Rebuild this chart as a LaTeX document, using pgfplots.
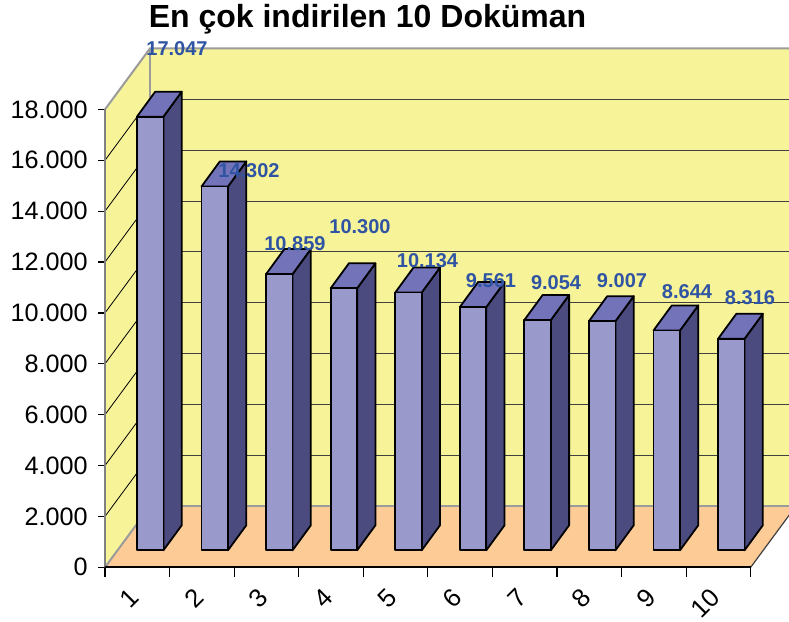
\documentclass[border=0pt]{standalone}
\usepackage{fontspec}
\setmainfont{Liberation Sans}
\usepackage{pgfplots}
\pgfplotsset{compat=1.18}
\definecolor{wallY}{RGB}{247,243,153}
\definecolor{floorO}{RGB}{253,203,150}
\definecolor{barF}{RGB}{153,153,204}
\definecolor{barT}{RGB}{115,115,185}
\definecolor{barS}{RGB}{75,75,128}
\definecolor{lblB}{RGB}{47,84,163}
\definecolor{edgeG}{RGB}{155,155,155}
\definecolor{gridD}{RGB}{64,64,64}

% #1 category centre, #2 value (thousands), #3,#4 label position, #5 label text
\newcommand{\drawbar}[5]{%
  \pgfmathsetmacro\xa{#1-0.005}%
  \pgfmathsetmacro\xb{#1+0.405}%
  \pgfmathsetmacro\xc{#1+0.688}%
  \pgfmathsetmacro\xd{#1+0.278}%
  \pgfmathsetmacro\yb{#2+0.668}%
  \pgfmathsetmacro\yc{#2+1.651}%
  \addplot[fill=barS, draw=black, line width=0.9pt, line join=round]
    coordinates {(\xb,0.668) (\xc,1.651) (\xc,\yc) (\xb,\yb)} -- cycle;
  \addplot[fill=barT, draw=black, line width=0.9pt, line join=round]
    coordinates {(\xa,\yb) (\xb,\yb) (\xc,\yc) (\xd,\yc)} -- cycle;
  \addplot[fill=barF, draw=black, line width=0.9pt, line join=round]
    coordinates {(\xa,0.668) (\xb,0.668) (\xb,\yb) (\xa,\yb)} -- cycle;
  \node[font=\fontsize{10}{12}\selectfont\bfseries, text=lblB, inner sep=0pt]
    at (axis cs:#3,#4) {#5};
}

\begin{document}
\begin{tikzpicture}
\begin{axis}[
  at={(0,0)}, anchor=south west,
  scale only axis, width=342pt, height=260.1pt,
  xmin=0, xmax=10.593, ymin=0, ymax=20.45,
  clip=false,
  axis line style={draw=none},
  tick pos=left, tick align=outside,
  xtick={0.5,1.5,2.5,3.5,4.5,5.5,6.5,7.5,8.5,9.5},
  xticklabels={1,2,3,4,5,6,7,8,9,10},
  minor xtick={0,1,2,3,4,5,6,7,8,9,10},
  ytick={0,2,4,6,8,10,12,14,16,18},
  yticklabels={0,2.000,4.000,6.000,8.000,10.000,12.000,14.000,16.000,18.000},
  major tick length=3.5pt, minor tick length=5pt,
  major x tick style={draw=none},
  every tick/.style={black, line width=0.6pt},
  yticklabel style={anchor=east, inner sep=0pt, xshift=-5pt, font=\fontsize{12.6}{14}\selectfont},
  xticklabel style={xshift=-1.25pt, yshift=-9.5pt, rotate=45, anchor=east, inner sep=0pt, font=\fontsize{12.8}{14}\selectfont},
]
% walls and floor
\addplot[fill=wallY, draw=none] coordinates {(0.697,2.398) (11,2.398) (11,20.398) (0.697,20.398)} -- cycle;
\addplot[fill=wallY, draw=none] coordinates {(0,0) (0.697,2.398) (0.697,20.398) (0,18)} -- cycle;
\addplot[fill=floorO, draw=none] coordinates {(0,0) (10,0) (10.697,2.398) (0.697,2.398)} -- cycle;
% back wall grid
\foreach \v in {4.398,6.398,8.398,10.398,12.398,14.398,16.398,18.398}{
  \edef\tmp{\noexpand\addplot[gridD, line width=0.5pt] coordinates {(0.697,\v) (11,\v)};}\tmp
}
% side wall grid
\foreach \v/\w in {2/4.398,4/6.398,6/8.398,8/10.398,10/12.398,12/14.398,14/16.398,16/18.398}{
  \edef\tmp{\noexpand\addplot[black, line width=0.4pt] coordinates {(0,\v) (0.697,\w)};}\tmp
}
% edges
\addplot[edgeG, line width=1pt] coordinates {(0,18) (0.697,20.398) (11,20.398)};
\addplot[edgeG, line width=1pt] coordinates {(0.697,20.398) (0.697,2.398) (11,2.398)};
\addplot[edgeG, line width=1pt] coordinates {(0,0) (0.697,2.398)};
\addplot[gray, line width=0.8pt] coordinates {(0,0) (0,18)};
\addplot[gridD, line width=0.6pt] coordinates {(10,0) (10.697,2.398)};
\addplot[black, line width=0.8pt] coordinates {(0,0) (10,0)};
% bars
\drawbar{0.5}{17.047}{1.115}{20.374}{17.047}
\drawbar{1.5}{14.302}{2.230}{15.590}{14.302}
\drawbar{2.5}{10.859}{2.942}{12.708}{10.859}
\drawbar{3.5}{10.300}{3.949}{13.377}{10.300}
\drawbar{4.5}{10.134}{4.995}{12.040}{10.134}
\drawbar{5.5}{9.561}{5.978}{11.254}{9.561}
\drawbar{6.5}{9.054}{6.985}{11.175}{9.054}
\drawbar{7.5}{9.007}{8.007}{11.254}{9.007}
\drawbar{8.5}{8.644}{9.013}{10.822}{8.644}
\drawbar{9.5}{8.316}{9.989}{10.586}{8.316}
\end{axis}
\node[font=\fontsize{16}{19}\selectfont\bfseries, anchor=base] at (131.25pt,270pt) {En çok indirilen 10 Doküman};
\pgfresetboundingbox
\useasboundingbox (-52.5pt,-27.35pt) rectangle (342pt,283.65pt);
\end{tikzpicture}
\end{document}
